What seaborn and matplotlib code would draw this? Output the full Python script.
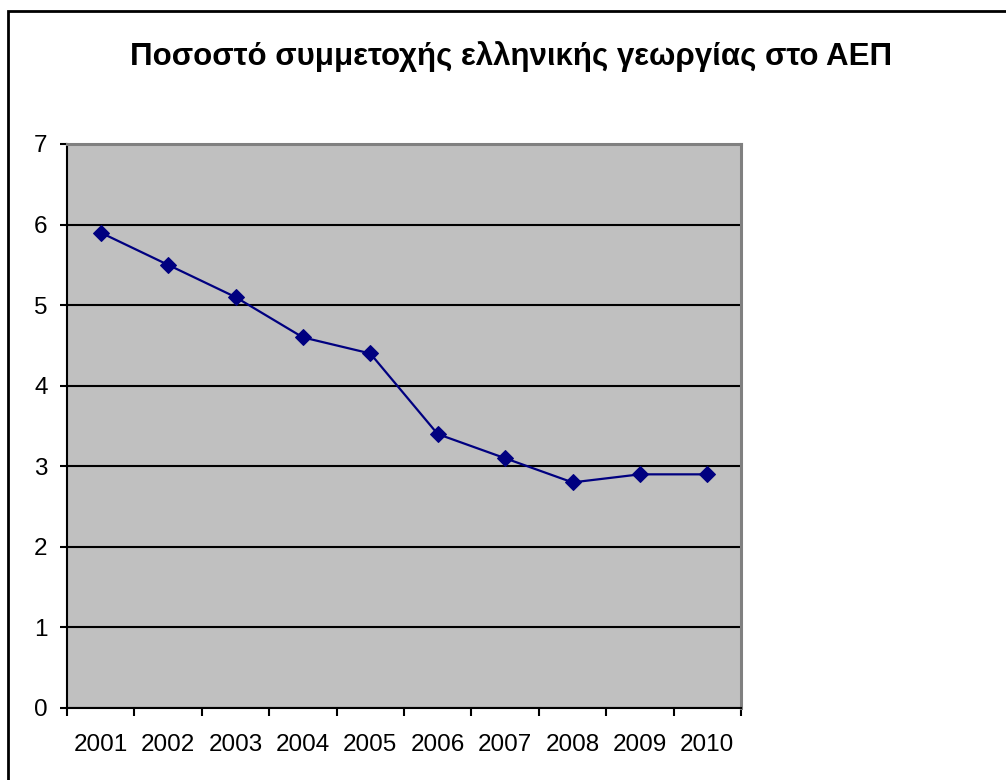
import numpy as np
import pandas as pd
import matplotlib
matplotlib.use("Agg")
import matplotlib.pyplot as plt
import seaborn as sns
from matplotlib.patches import Rectangle

# data
years = ["2001", "2002", "2003", "2004", "2005", "2006", "2007", "2008", "2009", "2010"]
share = [5.9, 5.5, 5.1, 4.6, 4.4, 3.4, 3.1, 2.8, 2.9, 2.9]
title = "Ποσοστό συμμετοχής ελληνικής γεωργίας στο ΑΕΠ"

sns.set_style("white")
plt.rcParams['font.family'] = ['Liberation Sans', 'DejaVu Sans']
plt.rcParams['text.color'] = 'black'
plt.rcParams['xtick.color'] = 'black'
plt.rcParams['ytick.color'] = 'black'

df = pd.DataFrame({"pos": np.arange(len(years)), "share": share})

fig = plt.figure(figsize=(10.06, 7.8), dpi=100)
ax = fig.add_axes([67/1006, 1 - 708/780, (741-67)/1006, (708-144)/780])
ax.set_facecolor("#C0C0C0")

sns.lineplot(data=df, x="pos", y="share", ax=ax, color="#000080", lw=1.6,
             marker="D", markersize=8.5, markeredgecolor="#000080", zorder=3)

ax.set_xlim(-0.5, len(years) - 0.5)
ax.set_ylim(0, 7)
ax.set_yticks(range(0, 8))
ax.yaxis.grid(True, color="black", lw=1.5)
ax.set_axisbelow(True)

# category boundaries get tick marks, labels sit at category centres
ax.set_xticks(np.arange(-0.5, len(years), 1.0))
ax.set_xticklabels([])
ax.set_xticks(np.arange(len(years)), minor=True)
ax.set_xticklabels(years, minor=True)
ax.tick_params(axis="x", which="major", bottom=True, direction="out", length=6, width=1.5, color="black")
ax.tick_params(axis="x", which="minor", bottom=True, length=0, pad=19, labelsize=17.5, labelcolor="black")
ax.tick_params(axis="y", left=True, direction="out", length=5, width=1.5, color="black", pad=9,
               labelsize=17.5, labelcolor="black")
ax.set_xlabel("")
ax.set_ylabel("")

for s in ["left", "bottom"]:
    ax.spines[s].set_color("black")
    ax.spines[s].set_linewidth(1.5)
for s in ["top", "right"]:
    ax.spines[s].set_color("#808080")
    ax.spines[s].set_linewidth(2.2)

fig.text(511/1006, 1 - 57/780, title, ha="center", va="center",
         fontsize=22.5, fontweight="bold", color="black")

# outer chart frame (right and bottom edges fall outside the image)
fig.patches.append(Rectangle((8/1006, -0.05), 1.1, 1 - 11/780 + 0.05,
                             transform=fig.transFigure, fill=False,
                             edgecolor="black", lw=2))

fig.savefig("out.png", dpi=100)
